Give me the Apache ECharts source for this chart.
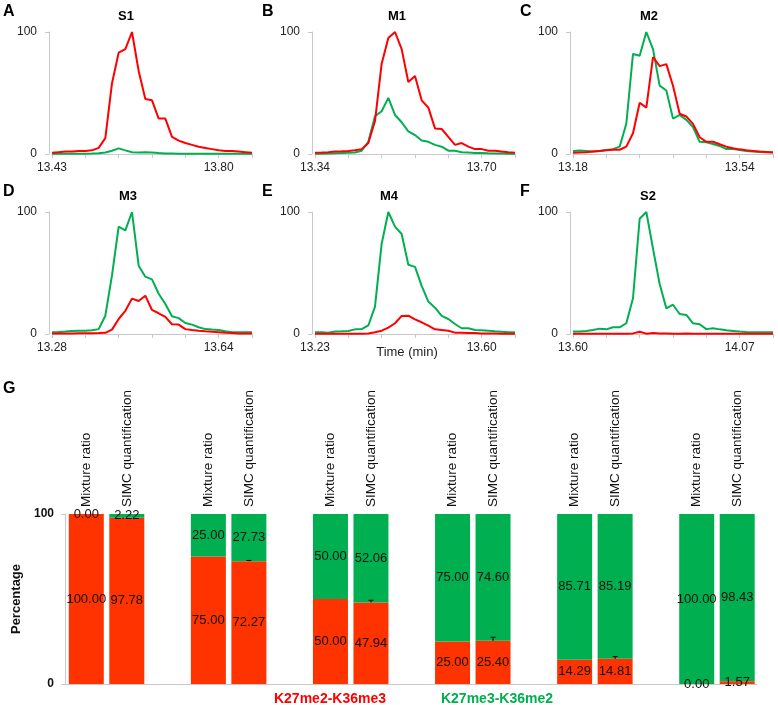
<!DOCTYPE html>
<html>
<head>
    <meta charset="utf-8">
    <title>SIMC chromatograms</title>
    <script src="https://cdn.jsdelivr.net/npm/echarts@6/dist/echarts.min.js"></script>
    <style>
        html, body { margin: 0; padding: 0; background: #fff; }
        #main { width: 778px; height: 705px; }
    </style>
</head>
<body>
<div id="main"></div>
<script>
    // ---- chromatograms (relative intensity, 31 scans each) ----
    var redA = [1, 1.5, 2, 2, 2.5, 2.5, 3, 5, 13, 58, 83, 86, 100, 68, 45, 44, 29, 29, 14, 11, 9, 7.5, 6, 5, 4, 3, 2.5, 2.5, 2, 1.5, 1];
    var greenA = [0.3, 0.3, 0.3, 0.3, 0.3, 0.3, 0.4, 0.6, 1.2, 2.7, 4.6, 3, 1.5, 1.3, 1.5, 1.2, 0.8, 0.5, 0.4, 0.3, 0.3, 0.3, 0.3, 0.3, 0.3, 0.3, 0.3, 0.3, 0.3, 0.3, 0.3];
    var redB = [1, 1.2, 1.5, 2, 2.2, 2.5, 3, 4, 9, 27, 74, 95, 100, 86, 59, 64, 44, 38, 21, 20.5, 14, 7.5, 9, 6, 4, 4, 2.7, 2.7, 2, 1.4, 1];
    var greenB = [0.2, 0.3, 0.5, 0.7, 0.9, 1, 1.2, 2.7, 10, 31, 35, 46, 32, 26, 18.5, 15.5, 11, 10, 7.5, 6, 2.7, 2.7, 1.4, 1.2, 0.9, 0.8, 0.6, 0.5, 0.4, 0.3, 0.3];
    var redC = [1, 1.3, 1.5, 2, 2.5, 3, 3.5, 3.5, 6, 17, 42, 38, 79.5, 72, 73.7, 56, 33, 30.7, 24.7, 13.7, 10, 10, 8, 6, 4.7, 3.8, 3, 2.5, 2, 1.6, 1.2];
    var greenC = [2.5, 2.8, 2.5, 2, 2.5, 3.3, 4, 6, 25, 82, 80.5, 100, 86, 56, 52, 29, 32, 28, 22, 10, 9.6, 8.2, 6.6, 4, 4, 3.3, 2.5, 2, 1.6, 1.4, 1.4];
    var redD = [0.5, 0.5, 0.5, 0.5, 0.6, 0.6, 0.7, 0.8, 1, 3.6, 12.3, 19, 29, 27, 31.4, 19.7, 17, 14, 8, 7.7, 4, 3.3, 2.7, 2.2, 1.8, 1.4, 1, 0.8, 0.5, 0.5, 0.5];
    var greenD = [1.4, 1.6, 2, 2.5, 2.7, 2.7, 3, 4, 15, 48, 88, 85, 100, 56, 47, 44.8, 33, 24.6, 14.5, 13, 9, 7.7, 5.5, 4, 3.6, 3.3, 2.2, 1.4, 1.4, 1.4, 1.4];
    var redE = [0.3, 0.3, 0.3, 0.3, 0.3, 0.3, 0.3, 0.3, 0.4, 1.4, 2.7, 5.2, 8.8, 14.8, 15, 12, 9.6, 6.8, 3.8, 3.3, 2.7, 1.1, 1, 0.8, 0.8, 0.5, 0.5, 0.4, 0.3, 0.3, 0.3];
    var greenE = [1.4, 1.4, 1.1, 2, 2.2, 2.5, 3.8, 4, 7, 22.5, 74, 100, 88, 82, 56.7, 55, 39.5, 26.6, 21.6, 14.8, 12.3, 8.2, 4.7, 4.7, 3.3, 3, 2.7, 2.2, 1.8, 1.4, 1.4];
    var redF = [0.2, 0.2, 0.2, 0.2, 0.2, 0.2, 0.2, 0.2, 0.3, 0.5, 1.8, 0.3, 0.8, 0.5, 0.4, 0.3, 0.3, 0.4, 0.3, 0.2, 0.2, 0.2, 0.2, 0.2, 0.2, 0.2, 0.2, 0.2, 0.2, 0.2, 0.2];
    var greenF = [2, 2, 2.5, 3.3, 4.4, 3.8, 5.5, 5.5, 8.8, 29.3, 94.5, 100, 70, 41, 21, 24, 16.4, 15.6, 8.8, 8, 4, 4.7, 3.8, 3, 2.5, 2, 1.6, 1.4, 1.4, 1.4, 1.4];

    // time tick labels (first scan, 25th scan)
    var ticksA = ['13.43', '13.80'];
    var ticksB = ['13.34', '13.70'];
    var ticksC = ['13.18', '13.54'];
    var ticksD = ['13.28', '13.64'];
    var ticksE = ['13.23', '13.60'];
    var ticksF = ['13.60', '14.07'];
    var tickIdx = [0, 25];

    // ---- panel G: percentages ----
    var groups = ['1', '2', '3', '4', '5', '6'];
    var mixRed = [100, 75, 50, 25, 14.29, 0];
    var mixGreen = [0, 25, 50, 75, 85.71, 100];
    var simcRed = [97.78, 72.27, 47.94, 25.40, 14.81, 1.57];
    var simcGreen = [2.22, 27.73, 52.06, 74.60, 85.19, 98.43];
    var simcErr = [0, 0.4, 1.3, 2.1, 1.3, 0];
    var barNames = ['Mixture ratio', 'SIMC quantification'];
    var pairNames = ['K27me2-K36me3', 'K27me3-K36me2'];

    var RED_LINE = '#ff0000', GREEN = '#00b050', RED_BAR = '#ff3300';
    var AXIS = '#c8c8c8';
    var FONT = 'Arial, "Liberation Sans", sans-serif';

    var panels = [
        {letter: 'A', title: 'S1', red: redA, green: greenA, ticks: ticksA, left: 52, top: 32, titleX: 126},
        {letter: 'B', title: 'M1', red: redB, green: greenB, ticks: ticksB, left: 315, top: 32, titleX: 397},
        {letter: 'C', title: 'M2', red: redC, green: greenC, ticks: ticksC, left: 573, top: 32, titleX: 649},
        {letter: 'D', title: 'M3', red: redD, green: greenD, ticks: ticksD, left: 52, top: 212, titleX: 128},
        {letter: 'E', title: 'M4', red: redE, green: greenE, ticks: ticksE, left: 315, top: 212, titleX: 389},
        {letter: 'F', title: 'S2', red: redF, green: greenF, ticks: ticksF, left: 573, top: 212, titleX: 648}
    ];

    var grid = [], xAxis = [], yAxis = [], series = [], graphic = [];

    panels.forEach(function (p, k) {
        grid.push({left: p.left, top: p.top, width: 200, height: 122});
        var cats = p.red.map(function (_, i) { return String(i); });
        xAxis.push({
            type: 'category', gridIndex: k, data: cats, boundaryGap: false,
            axisLine: {lineStyle: {color: AXIS, width: 1}},
            axisTick: {interval: 4, length: 4, lineStyle: {color: AXIS}},
            axisLabel: {
                interval: function (i) { return tickIdx.indexOf(i) >= 0; },
                formatter: function (v, i) { return p.ticks[tickIdx.indexOf(i)] || ''; },
                fontSize: 12, color: '#222', fontFamily: FONT, margin: 8
            },
            splitLine: {show: false}
        });
        yAxis.push({
            type: 'value', gridIndex: k, min: 0, max: 100, interval: 100, offset: 3,
            axisLine: {show: true, lineStyle: {color: AXIS}},
            axisTick: {show: true, length: 4, lineStyle: {color: AXIS}},
            axisLabel: {fontSize: 12, color: '#222', fontFamily: FONT, margin: 12},
            splitLine: {show: false}
        });
        [['green', p.green, GREEN], ['red', p.red, RED_LINE]].forEach(function (s) {
            series.push({
                type: 'line', name: s[0], xAxisIndex: k, yAxisIndex: k, data: s[1],
                showSymbol: false, symbol: 'none',
                lineStyle: {color: s[2], width: 2}, itemStyle: {color: s[2]}
            });
        });
        var row = Math.floor(k / 3);
        var baseX = [3, 262, 520][k % 3];
        graphic.push({type: 'text', x: baseX, y: 4 + row * 180,
            style: {text: p.letter, font: 'bold 16px ' + FONT, fill: '#000'}});
        graphic.push({type: 'text', x: p.titleX, y: 16 + row * 180,
            style: {text: p.title, font: 'bold 13px ' + FONT, fill: '#000',
                textAlign: 'center', textVerticalAlign: 'middle'}});
    });

    graphic.push({type: 'text', x: 407, y: 352,
        style: {text: 'Time (min)', font: '13px ' + FONT, fill: '#222', textAlign: 'center', textVerticalAlign: 'middle'}});
    graphic.push({type: 'text', x: 3, y: 381,
        style: {text: 'G', font: 'bold 16px ' + FONT, fill: '#000'}});
    graphic.push({type: 'text', x: 330, y: 699,
        style: {text: pairNames[0], font: 'bold 14px ' + FONT, fill: RED_LINE, textAlign: 'center', textVerticalAlign: 'middle'}});
    graphic.push({type: 'text', x: 497, y: 699,
        style: {text: pairNames[1], font: 'bold 14px ' + FONT, fill: GREEN, textAlign: 'center', textVerticalAlign: 'middle'}});

    // ---- panel G grids: 6 = bars, 7 = visible axes frame ----
    var BAR_W = 35, BAR_GAP = 5.5;
    grid.push({left: 45.5, top: 514, width: 735, height: 170});
    grid.push({left: 65, top: 514, width: 692, height: 170});
    xAxis.push({type: 'category', gridIndex: 6, data: groups, show: false});
    yAxis.push({type: 'value', gridIndex: 6, min: 0, max: 100, show: false});
    xAxis.push({
        type: 'value', gridIndex: 7, min: 0, max: 1,
        axisLine: {show: true, lineStyle: {color: AXIS}},
        axisTick: {show: false}, axisLabel: {show: false}, splitLine: {show: false}
    });
    yAxis.push({
        type: 'value', gridIndex: 7, min: 0, max: 100, interval: 100,
        name: 'Percentage', nameLocation: 'middle', nameGap: 29, nameRotate: 90,
        nameTextStyle: {fontSize: 13, fontWeight: 'bold', color: '#111', fontFamily: FONT},
        axisLine: {show: true, lineStyle: {color: AXIS}},
        axisTick: {show: true, length: 4, lineStyle: {color: AXIS}},
        axisLabel: {fontSize: 12, fontWeight: 'bold', color: '#111', fontFamily: FONT, margin: 11},
        splitLine: {show: false}
    });

    var valueLabel = {
        show: true, position: 'inside', color: '#111', fontSize: 13, fontFamily: FONT,
        formatter: function (d) { return d.value.toFixed(2); }
    };
    function barSeries(stack, data, color) {
        return {
            type: 'bar', stack: stack, xAxisIndex: 6, yAxisIndex: 6, data: data,
            barWidth: BAR_W, barGap: (BAR_GAP / BAR_W * 100) + '%',
            itemStyle: {color: color}, label: valueLabel
        };
    }
    function nameSeries(stack, text) {
        return {
            type: 'bar', stack: stack, xAxisIndex: 6, yAxisIndex: 6,
            data: groups.map(function () { return 0; }),
            barWidth: BAR_W, barGap: (BAR_GAP / BAR_W * 100) + '%',
            itemStyle: {color: 'rgba(0,0,0,0)'},
            label: {
                show: true, position: 'top', distance: 7, rotate: 90,
                align: 'left', verticalAlign: 'middle',
                formatter: text, color: '#111', fontSize: 13.5, fontFamily: FONT
            }
        };
    }
    series.push(barSeries('mix', mixRed, RED_BAR));
    series.push(barSeries('mix', mixGreen, GREEN));
    series.push(nameSeries('mix', barNames[0]));
    series.push(barSeries('simc', simcRed, RED_BAR));
    series.push(barSeries('simc', simcGreen, GREEN));
    series.push(nameSeries('simc', barNames[1]));

    // error bars on the SIMC red/green boundary
    series.push({
        type: 'custom', xAxisIndex: 6, yAxisIndex: 6, z: 5,
        data: simcRed.map(function (v, i) { return [i, v, simcErr[i]]; }),
        encode: {x: 0, y: 1},
        renderItem: function (params, api) {
            var e = api.value(2);
            if (!e) return;
            var p0 = api.coord([api.value(0), api.value(1)]);
            var p1 = api.coord([api.value(0), api.value(1) + e]);
            var x = p0[0] + (BAR_W + BAR_GAP) / 2;
            var st = {stroke: '#000', lineWidth: 1};
            return {type: 'group', children: [
                {type: 'line', shape: {x1: x, y1: p0[1], x2: x, y2: p1[1]}, style: st},
                {type: 'line', shape: {x1: x - 2.5, y1: p1[1], x2: x + 2.5, y2: p1[1]}, style: st}
            ]};
        }
    });

    var chart = echarts.init(document.getElementById('main'));
    chart.setOption({
        animation: false,
        backgroundColor: '#fff',
        grid: grid, xAxis: xAxis, yAxis: yAxis, series: series, graphic: graphic
    });
</script>
</body>
</html>
